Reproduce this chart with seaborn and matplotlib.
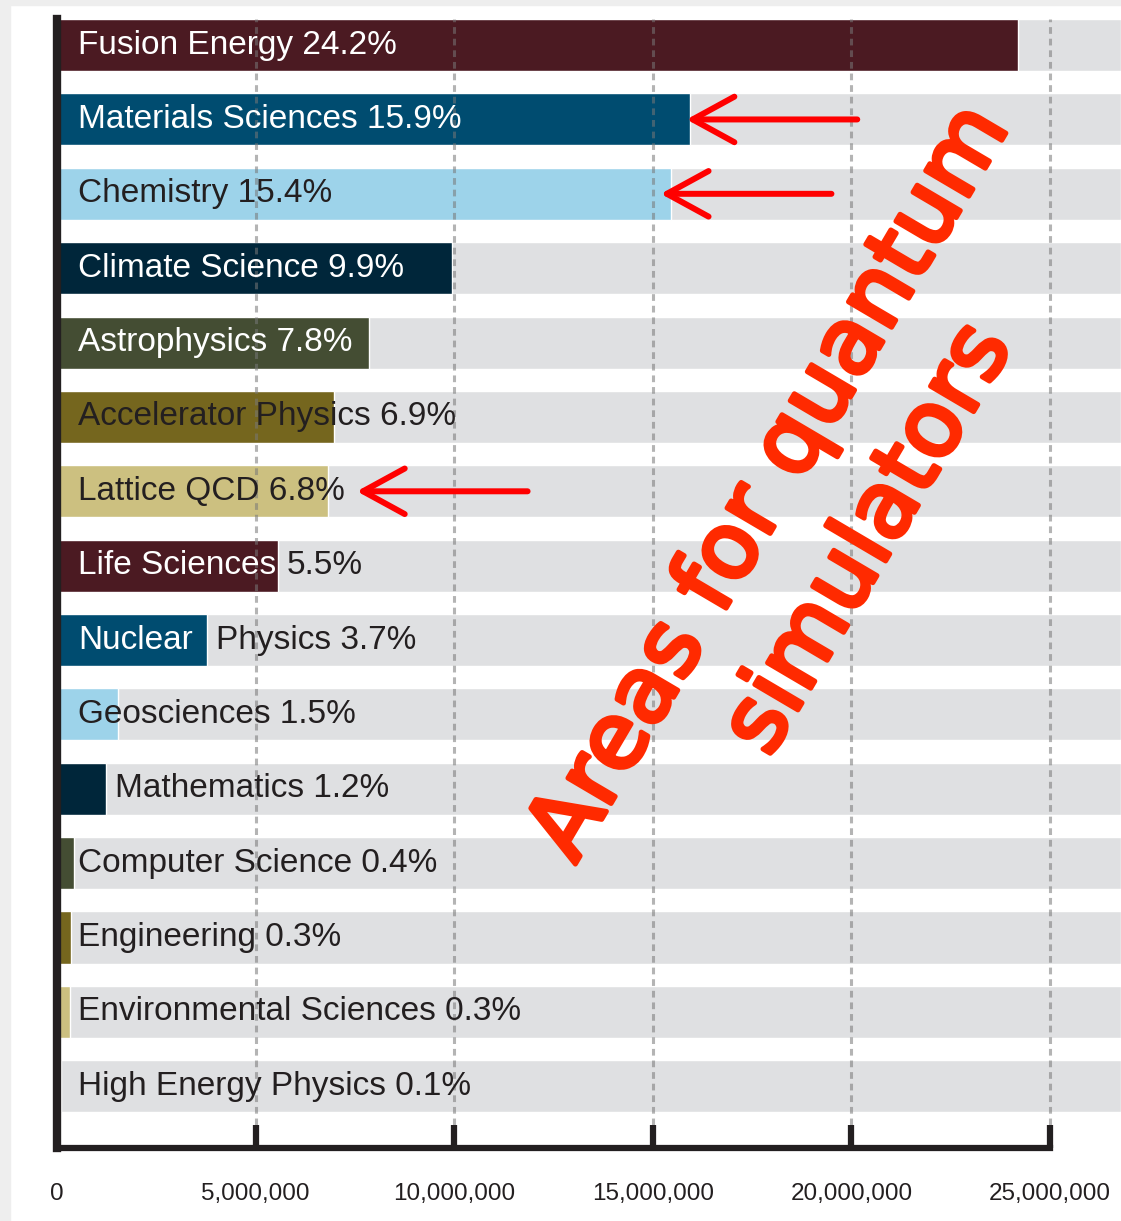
import numpy as np
import pandas as pd
import matplotlib.pyplot as plt
import matplotlib.patheffects as pe
from matplotlib.patches import Rectangle
import seaborn as sns

# allocation per science field (hours)
fields = ['Fusion Energy', 'Materials Sciences', 'Chemistry', 'Climate Science',
          'Astrophysics', 'Accelerator Physics', 'Lattice QCD', 'Life Sciences',
          'Nuclear Physics', 'Geosciences', 'Mathematics', 'Computer Science',
          'Engineering', 'Environmental Sciences', 'High Energy Physics']
hours = [24.2e6, 15.95e6, 15.45e6, 9.95e6, 7.85e6, 6.98e6, 6.82e6, 5.57e6,
         3.78e6, 1.53e6, 1.23e6, 0.43e6, 0.35e6, 0.34e6, 0.10e6]

# label text drawn inside the bar / after the bar end
label_in = ['Fusion Energy 24.2%', 'Materials Sciences 15.9%', 'Chemistry 15.4%',
            'Climate Science 9.9%', 'Astrophysics 7.8%', 'Accelerator Physics 6.9%',
            'Lattice QCD 6.8%', 'Life Sciences', 'Nuclear', 'Geosciences 1.5%', '',
            'Computer Science 0.4%', 'Engineering 0.3%', 'Environmental Sciences 0.3%',
            'High Energy Physics 0.1%']
label_out = ['', '', '', '', '', '', '', '5.5%', 'Physics 3.7%', '',
             'Mathematics 1.2%', '', '', '', '']

xticks = [0, 5e6, 10e6, 15e6, 20e6, 25e6]
xtick_labels = ['0', '5,000,000', '10,000,000', '15,000,000', '20,000,000', '25,000,000']

# fields pointed at by the red arrows, and where each arrow tip sits
highlighted = ['Materials Sciences', 'Chemistry', 'Lattice QCD']
arrow_tips = [15.85e6, 15.2e6, 7.55e6]
callout_lines = ['Areas for quantum', 'simulators']

# styling
cycle = ['#4B1A22', '#004C70', '#9DD3EA', '#00263A', '#444D33', '#75661E', '#CCC080']
bar_colors = [cycle[i % len(cycle)] for i in range(len(fields))]
white_in = ['Fusion Energy', 'Materials Sciences', 'Climate Science', 'Astrophysics',
            'Life Sciences', 'Nuclear Physics']
ink = '#231F20'
band = '#DFE0E2'
red_txt = '#FF2A00'
xmax = 26.79e6

sns.set_style('white')
plt.rcParams['font.family'] = ['Liberation Sans', 'DejaVu Sans']

df = pd.DataFrame({'field': fields, 'hours': hours})
df['full'] = xmax

fig = plt.figure(figsize=(11.21, 12.21), dpi=100)
# faint page shadow on the left / top edge
fig.patches.append(Rectangle((0, 0), 10 / 1121, 1, transform=fig.transFigure,
                             color='#EEEEEE', zorder=0))
fig.patches.append(Rectangle((0, 1 - 5 / 1221), 1, 5 / 1221, transform=fig.transFigure,
                             color='#EEEEEE', zorder=0))

ax = fig.add_axes([0.0508, 0.0598, 0.9492, 0.9246])

sns.barplot(data=df, x='full', y='field', color=band, width=0.7, saturation=1,
            errorbar=None, ax=ax)
sns.barplot(data=df, x='hours', y='field', hue='field', palette=bar_colors,
            width=0.7, saturation=1, errorbar=None, legend=False, ax=ax)

ax.set_xlim(0, xmax)
ax.set_ylim(14.83, -0.35)
ax.set_xlabel('')
ax.set_ylabel('')

ax.set_xticks(xticks)
ax.set_xticklabels(xtick_labels)
ax.tick_params(axis='x', bottom=True, direction='in', length=16.5, width=4.5,
               color=ink, pad=25, labelsize=17.5, labelcolor=ink)
ax.tick_params(axis='y', left=False, labelleft=False)

ax.xaxis.grid(True, linestyle=(0, (2.2, 1.6)), color='#777777', alpha=0.55, lw=2.2)
ax.get_xgridlines()[0].set_visible(False)
ax.yaxis.grid(False)
ax.set_axisbelow(False)

for s in ['top', 'right']:
    ax.spines[s].set_visible(False)
ax.spines['left'].set_linewidth(6)
ax.spines['left'].set_color(ink)
ax.spines['bottom'].set_linewidth(4.5)
ax.spines['bottom'].set_color(ink)
ax.spines['bottom'].set_bounds(0, 25e6)

for i, f in enumerate(fields):
    if label_in[i]:
        col = 'white' if f in white_in else ink
        ax.text(0.53e6, i, label_in[i], color=col, fontsize=24,
                va='center', ha='left', zorder=4)
    if label_out[i]:
        ax.text(hours[i] + 0.22e6, i, label_out[i], color=ink, fontsize=24,
                va='center', ha='left', zorder=4)

for f, tip in zip(highlighted, arrow_tips):
    i = fields.index(f)
    ax.annotate('', xy=(tip, i), xytext=(tip + 4.3e6, i),
                arrowprops=dict(arrowstyle='->,head_length=1.5,head_width=0.82',
                                lw=4.3, color='#FF0000', shrinkA=0, shrinkB=0,
                                mutation_scale=20),
                zorder=5)

# rotated callout, one text per line
for (cx, cy), line in zip([(0.6870, 0.6050), (0.7750, 0.5590)], callout_lines):
    fig.text(cx, cy, line, rotation=59.5, rotation_mode='anchor',
             ha='center', va='center', fontsize=66, color=red_txt,
             family='DejaVu Sans', zorder=6,
             path_effects=[pe.withStroke(linewidth=3.5, foreground=red_txt)])

fig.savefig('out.png', dpi=100)
